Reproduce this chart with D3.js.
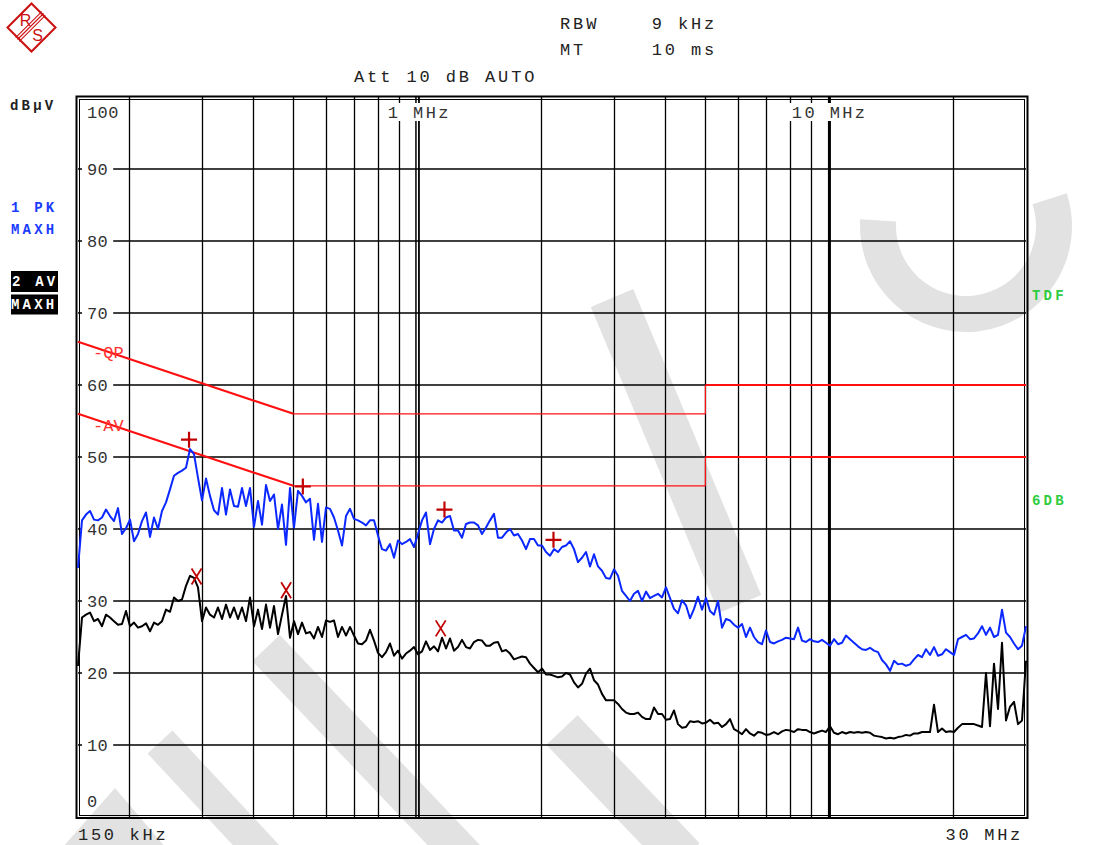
<!DOCTYPE html>
<html><head><meta charset="utf-8">
<script src="https://cdn.jsdelivr.net/npm/d3@7"></script>
<style>html,body{margin:0;padding:0;background:#fff;}svg{display:block;}</style>
</head><body>
<svg id="chart" width="1099" height="845"></svg>
<script>
// Receiver sweep: 150 kHz .. 30 MHz, log-spaced points
const sweepStartMHz = 0.15;
const sweepStopMHz = 30;

// Trace 1: peak detector, max hold (dBµV)
const pkMaxHold = [
34.6,41.2,42.0,42.5,41.3,41.2,41.6,42.7,41.8,41.1,
42.9,39.3,40.1,41.3,38.3,39.3,41.1,42.3,38.9,41.6,
40.0,42.5,43.7,45.5,47.4,47.8,48.1,48.5,51.1,50.4,
47.1,44.0,47.0,44.6,42.6,42.0,45.7,42.0,45.5,43.2,
43.1,45.7,43.2,45.7,40.3,43.9,40.6,46.1,43.9,44.8,
40.0,43.4,37.8,45.7,40.2,45.3,44.6,43.7,44.2,38.5,
43.5,38.2,43.0,42.8,41.6,39.8,37.7,41.8,42.8,41.4,
41.2,40.9,40.5,41.2,41.2,39.1,37.2,37.0,37.9,36.0,
38.4,37.9,38.2,38.6,37.5,39.3,41.2,42.3,37.9,40.0,
41.2,40.9,41.6,41.8,39.8,39.8,38.8,40.7,40.9,40.9,
40.5,39.3,40.2,41.2,42.1,38.8,38.8,39.5,40.0,39.1,
39.3,38.4,37.2,38.6,38.6,37.7,37.7,36.8,36.3,37.2,
36.8,37.5,37.7,38.3,37.2,35.4,36.0,36.8,34.8,36.5,
34.8,34.2,33.2,33.1,34.4,33.5,31.4,30.7,30.0,31.0,
31.4,30.0,31.3,30.4,30.7,31.0,30.5,31.9,30.4,28.9,
28.3,30.1,29.4,27.6,28.9,30.6,28.8,30.4,28.6,28.1,
30.0,26.3,27.5,27.3,26.7,26.3,26.8,25.0,26.3,25.0,
24.3,24.0,25.9,24.3,24.1,24.4,24.6,24.9,24.8,24.7,
26.3,24.5,24.3,24.7,24.4,24.3,24.6,24.2,23.8,24.7,
24.0,24.2,25.2,24.7,24.2,23.7,23.3,23.2,23.5,23.1,
22.9,21.8,21.2,20.3,21.7,21.2,21.3,21.0,21.2,21.9,
22.5,22.2,23.3,22.5,23.6,22.4,22.6,23.3,22.9,22.5,
24.7,25.0,25.3,24.7,24.8,25.5,26.5,25.3,26.3,25.0,
25.3,28.8,25.6,25.0,24.1,23.3,23.8,26.5
];

// Trace 2: average detector, max hold (dBµV)
const avMaxHold = [
21.0,27.7,28.1,28.4,27.2,27.5,26.5,28.1,27.7,27.2,
26.7,26.8,28.6,26.5,27.0,26.3,26.5,26.9,25.8,27.0,
26.7,27.2,28.8,28.5,30.5,30.0,30.2,32.1,33.5,33.2,
31.9,27.2,29.1,28.1,27.7,29.1,27.5,29.5,27.7,29.1,
27.5,29.1,27.2,30.5,26.5,28.8,26.1,29.5,26.3,29.3,
25.4,28.1,30.7,24.9,27.2,25.4,27.0,25.5,25.7,24.8,
26.4,25.0,27.3,27.1,27.3,25.0,26.4,25.2,26.4,25.2,
24.1,24.0,24.5,26.0,24.5,22.8,22.2,22.9,24.1,22.4,
23.1,22.0,22.7,23.1,23.6,22.6,23.0,24.4,23.2,23.7,
23.0,24.9,23.4,24.8,23.1,23.6,24.6,23.6,23.4,24.3,
24.6,24.5,23.8,23.8,24.2,24.3,23.0,23.2,22.7,21.9,
22.1,22.3,22.2,21.3,20.7,20.1,20.6,19.8,19.8,19.6,
19.4,19.5,20.0,19.8,18.7,18.0,18.5,19.9,20.6,19.0,
18.4,17.1,16.2,16.2,16.2,15.7,15.0,14.5,14.3,14.3,
14.5,13.9,13.6,13.6,15.2,14.3,14.3,13.5,13.6,14.8,
12.9,12.4,12.5,13.3,13.2,13.3,13.0,13.1,13.5,13.0,
13.1,12.5,12.9,13.6,12.2,11.9,11.5,12.2,11.6,11.3,
11.8,11.7,11.4,11.5,11.8,11.5,11.9,12.1,12.0,11.8,
12.2,12.1,12.1,11.8,11.6,11.8,12.0,11.8,12.6,11.7,
11.5,11.8,11.6,11.8,11.7,11.8,11.7,11.8,11.7,11.3,
11.2,11.1,10.9,11.0,10.9,11.1,11.2,11.4,11.3,11.6,
11.6,11.8,11.8,11.8,15.6,11.8,12.3,11.8,11.9,11.8,
12.4,12.9,12.9,12.9,12.9,12.7,12.5,20.0,12.6,21.3,
15.0,24.2,13.4,15.3,16.0,12.9,13.4,21.7
];

// Limit lines [MHz, dBµV]
const qpLimit = [[0.15, 66], [0.5, 56], [5, 56], [5, 60], [30, 60]];
const avLimit = [[0.15, 56], [0.5, 46], [5, 46], [5, 50], [30, 50]];

// Markers [MHz, dBµV]
const pkMarkers = [[0.279, 52.4], [0.527, 45.9], [1.163, 42.7], [2.139, 38.5]];
const avMarkers = [[0.291, 33.4], [0.480, 31.5], [1.139, 26.2]];

// Axes
const levelTicks = [0, 10, 20, 30, 40, 50, 60, 70, 80, 90, 100];
const freqGridMHz = [0.2, 0.3, 0.4, 0.5, 0.6, 0.7, 0.8, 0.9, 2, 3, 4, 5, 6, 7, 8, 9, 20];
const freqDecadesMHz = [1, 10];
const freqLabels = [[1, "1 MHz"], [10, "10 MHz"]];

const svg = d3.select("#chart");
const W = 1099, H = 845;
const plot = {left: 78, right: 1026, top: 97, bottom: 817};

const x = d3.scaleLog().domain([sweepStartMHz, sweepStopMHz]).range([plot.left, plot.right]);
const y = d3.scaleLinear().domain([0, 100]).range([plot.bottom, plot.top]);

const nPts = pkMaxHold.length;
const sweepFreq = d3.range(nPts).map(i => sweepStartMHz * Math.pow(sweepStopMHz / sweepStartMHz, i / (nPts - 1)));

const mono = "'Liberation Mono','Courier New',monospace";

svg.append("rect").attr("width", W).attr("height", H).attr("fill", "#fff");

// ---- background watermark ----
const wm = svg.append("g").attr("fill", "#e2e2e2").attr("stroke", "none");
const band = (x1, y1, x2, y2, w) => {
  const dx = x2 - x1, dy = y2 - y1, L = Math.hypot(dx, dy);
  const nx = -dy / L * w / 2, ny = dx / L * w / 2;
  return [[x1 + nx, y1 + ny], [x2 + nx, y2 + ny], [x2 - nx, y2 - ny], [x1 - nx, y1 - ny]];
};
const wmShapes = [
  band(612, 298, 740, 604, 46),
  band(266, 648, 468, 860, 38),
  band(160, 742, 268, 858, 34),
  band(562, 730, 684, 858, 43),
  [[115, 788], [62, 848], [166, 848]]
];
wmShapes.forEach(p => wm.append("path").attr("d", d3.line()(p) + "Z"));
wm.append("path")
  .attr("d", d3.arc().innerRadius(70).outerRadius(106).startAngle(Math.PI * 0.4).endAngle(Math.PI * 1.52)())
  .attr("transform", "translate(966,226)");

// ---- grid ----
const grid = svg.append("g");
grid.selectAll("line.h").data(levelTicks.filter(v => v > 0 && v < 100)).join("line")
  .attr("x1", plot.left).attr("x2", plot.right)
  .attr("y1", d => y(d)).attr("y2", d => y(d))
  .attr("stroke", "#000").attr("stroke-width", 1.6);
grid.selectAll("line.v").data(freqGridMHz).join("line")
  .attr("x1", d => Math.round(x(d)) + 0.5).attr("x2", d => Math.round(x(d)) + 0.5)
  .attr("y1", plot.top).attr("y2", plot.bottom)
  .attr("stroke", "#000").attr("stroke-width", 1.3);
// decade lines: double at 1 MHz, heavy at 10 MHz
grid.append("line").attr("x1", x(1) - 1.5).attr("x2", x(1) - 1.5)
  .attr("y1", plot.top).attr("y2", plot.bottom).attr("stroke", "#000").attr("stroke-width", 1.5);
grid.append("line").attr("x1", x(1) + 1.5).attr("x2", x(1) + 1.5)
  .attr("y1", plot.top).attr("y2", plot.bottom).attr("stroke", "#000").attr("stroke-width", 1.8);
grid.append("line").attr("x1", x(10)).attr("x2", x(10))
  .attr("y1", plot.top).attr("y2", plot.bottom).attr("stroke", "#000").attr("stroke-width", 3);

// ---- frame ----
svg.append("rect").attr("x", 76.5).attr("y", 96.5).attr("width", 951).attr("height", 721.5)
  .attr("fill", "none").attr("stroke", "#000").attr("stroke-width", 2);
svg.append("rect").attr("x", 79.5).attr("y", 99.5).attr("width", 945).attr("height", 716)
  .attr("fill", "none").attr("stroke", "#000").attr("stroke-width", 1);

// ---- level labels with white backing ----
const lab = svg.append("g").attr("font-family", mono).attr("font-size", 17).attr("fill", "#333");
levelTicks.forEach(v => {
  let ty = y(v);
  if (v === 100) ty = 112;
  if (v === 0) ty = 801;
  const t = String(v);
  const w = t.length * 10.6;
  if (v > 0 && v < 100) {
    lab.append("rect").attr("x", 82).attr("y", ty - 3).attr("width", w + 10).attr("height", 6).attr("fill", "#fff");
  }
  lab.append("text").attr("x", 87).attr("y", ty).attr("dy", "0.35em")
    .attr("letter-spacing", 0.4).text(t);
});

// frequency labels inside the plot top, the gap after the number sitting on the decade line
freqLabels.forEach(([f, t]) => {
  const nDigits = t.indexOf(" ");
  const lx = x(f) - 17 - 12.6 * nDigits + 4.6 * (nDigits - 1);
  lab.append("rect").attr("x", lx - 3).attr("y", 103).attr("width", t.length * 12.8 + 4).attr("height", 18).attr("fill", "#fff");
  lab.append("text").attr("x", lx).attr("y", 112).attr("dy", "0.35em")
    .attr("letter-spacing", 2.4).text(t);
});

// ---- limit lines ----
const lim = svg.append("g").attr("fill", "none").attr("stroke", "#ff1010");
[qpLimit, avLimit].forEach(L => {
  for (let k = 0; k < L.length - 1; k++) {
    const a = L[k], b = L[k + 1];
    const thin = (a[0] >= 0.5 && b[0] <= 5);
    lim.append("line")
      .attr("x1", x(a[0])).attr("y1", y(a[1]))
      .attr("x2", x(b[0])).attr("y2", y(b[1]))
      .attr("stroke-width", thin ? 1.2 : 2.2);
  }
});
lim.append("text").attr("x", 93).attr("y", 352).attr("dy", "0.35em").attr("stroke", "none")
  .attr("fill", "#ff3030").attr("font-family", mono).attr("font-size", 17).text("-QP");
lim.append("text").attr("x", 93).attr("y", 425).attr("dy", "0.35em").attr("stroke", "none")
  .attr("fill", "#ff3030").attr("font-family", mono).attr("font-size", 17).text("-AV");

// ---- traces ----
const line = d3.line().x(d => x(d[0])).y(d => y(d[1]));
svg.append("path").datum(sweepFreq.map((f, i) => [f, avMaxHold[i]]))
  .attr("d", line).attr("fill", "none").attr("stroke", "#000")
  .attr("stroke-width", 2).attr("stroke-linejoin", "round");
svg.append("path").datum(sweepFreq.map((f, i) => [f, pkMaxHold[i]]))
  .attr("d", line).attr("fill", "none").attr("stroke", "#0a28ff")
  .attr("stroke-width", 2).attr("stroke-linejoin", "round");

// ---- markers ----
const mk = svg.append("g").attr("stroke", "#c00000").attr("stroke-width", 2.2).attr("fill", "none");
pkMarkers.forEach(([f, v]) => {
  const cx = x(f), cy = y(v);
  mk.append("path").attr("d", `M${cx - 8},${cy}H${cx + 8}M${cx},${cy - 8}V${cy + 8}`);
});
avMarkers.forEach(([f, v]) => {
  const cx = x(f), cy = y(v);
  mk.append("path").attr("d", `M${cx - 5},${cy - 8}L${cx + 5},${cy + 8}M${cx + 5},${cy - 8}L${cx - 5},${cy + 8}`)
    .attr("stroke-width", 1.8);
});

// ---- header texts ----
const hdr = svg.append("g").attr("font-family", mono).attr("font-size", 17).attr("fill", "#222")
  .attr("letter-spacing", 2.9);
hdr.append("text").attr("x", 560).attr("y", 23).attr("dy", "0.35em").attr("xml:space", "preserve").text("RBW    9 kHz");
hdr.append("text").attr("x", 560).attr("y", 49).attr("dy", "0.35em").attr("xml:space", "preserve").text("MT     10 ms");
hdr.append("text").attr("x", 354).attr("y", 76).attr("dy", "0.35em").text("Att 10 dB AUTO");
hdr.append("text").attr("x", 78).attr("y", 834).attr("dy", "0.35em").attr("letter-spacing", 2.7).text("150 kHz");
hdr.append("text").attr("x", 1023).attr("y", 834).attr("dy", "0.35em").attr("letter-spacing", 2.7)
  .attr("text-anchor", "end").text("30 MHz");

// ---- side labels ----
const side = svg.append("g").attr("font-family", mono).attr("font-size", 14).attr("font-weight", "bold")
  .attr("letter-spacing", 3.2);
side.append("text").attr("x", 10).attr("y", 105).attr("dy", "0.35em").attr("fill", "#222").text("dBµV");
side.append("text").attr("x", 11).attr("y", 207).attr("dy", "0.35em").attr("fill", "#1a3cff").text("1 PK");
side.append("text").attr("x", 11).attr("y", 229).attr("dy", "0.35em").attr("fill", "#1a3cff").text("MAXH");
side.append("rect").attr("x", 11).attr("y", 271).attr("width", 47).attr("height", 21).attr("fill", "#000");
side.append("rect").attr("x", 11).attr("y", 294.5).attr("width", 47).attr("height", 20).attr("fill", "#000");
side.append("text").attr("x", 12).attr("y", 281.5).attr("dy", "0.35em").attr("fill", "#fff").text("2 AV");
side.append("text").attr("x", 11).attr("y", 304.5).attr("dy", "0.35em").attr("fill", "#fff").text("MAXH");
side.append("text").attr("x", 1032).attr("y", 295).attr("dy", "0.35em").attr("fill", "#2ecc40").text("TDF");
side.append("text").attr("x", 1032).attr("y", 500).attr("dy", "0.35em").attr("fill", "#2ecc40").text("6DB");

// ---- logo ----
const red = "#cc1010";
const logo = svg.append("g").attr("transform", "translate(31.5,27.5)");
logo.append("path").attr("d", "M0,-24L24,0L0,24L-24,0Z").attr("fill", "none").attr("stroke", red).attr("stroke-width", 2);
[-2.6, 0, 2.6].forEach(o => {
  logo.append("line").attr("x1", -14 + o * 0.7).attr("y1", 12 + o * 0.7).attr("x2", 12 + o * 0.7).attr("y2", -14 + o * 0.7)
    .attr("stroke", red).attr("stroke-width", 1.1);
});
logo.append("text").attr("x", -6).attr("y", -2).attr("text-anchor", "middle").attr("font-family", "'Liberation Sans',sans-serif")
  .attr("font-size", 16).attr("fill", red).text("R");
logo.append("text").attr("x", 6).attr("y", 13).attr("text-anchor", "middle").attr("font-family", "'Liberation Sans',sans-serif")
  .attr("font-size", 16).attr("fill", red).text("S");
</script>
</body></html>
